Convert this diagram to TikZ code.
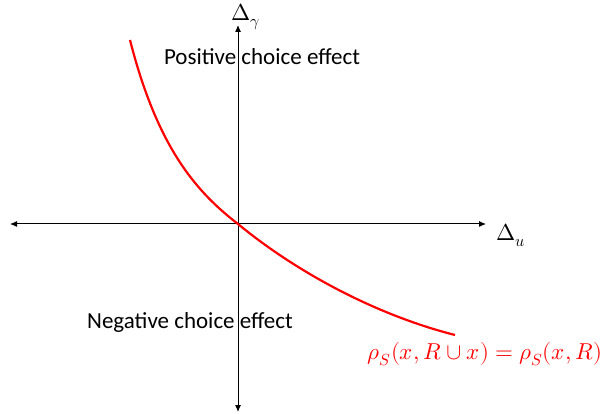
\documentclass[tikz,border=0pt]{standalone}
\usepackage{fontspec}
\usepackage{unicode-math}
\setmainfont{Carlito}
\setmathfont{Latin Modern Math}
\usepackage{tikz}
\usetikzlibrary{arrows.meta,positioning,calc}

\begin{document}
\begin{tikzpicture}[x=1pt,y=-1pt,font=\fontsize{23}{26}\selectfont]
\useasboundingbox (0,0) rectangle (608,414);
% Axes
\coordinate (O) at (238,224);
\coordinate (left) at (10,224);
\coordinate (right) at (486,224);
\coordinate (top) at (238,25);
\coordinate (bottom) at (238,412);
\draw[{Latex[length=7pt,width=6pt]}-{Latex[length=7pt,width=6pt]}, line width=1pt] (left) -- (right);
\draw[{Latex[length=7pt,width=6pt]}-{Latex[length=7pt,width=6pt]}, line width=1pt] (bottom) -- (top);
\node[anchor=base] (du) at (511,241) {$\Delta_u$};
\node[anchor=base] (dg) at (246,21) {$\Delta_\gamma$};

% Regions
\node (pos) at (262,57) {Positive choice effect};
\node (neg) at (190,322) {Negative choice effect};

% Indifference curve
\coordinate (c1) at (130,40);
\coordinate (c2) at (455,335);
\draw[red, line width=2.2pt] (c1) .. controls (158,150) and (198,193) .. (O)
  .. controls (300,275) and (380,316) .. (c2);
\node[red] (eq) at (485,354) {$\rho_S(x,R\cup x)=\rho_S(x,R)$};
\end{tikzpicture}
\end{document}
